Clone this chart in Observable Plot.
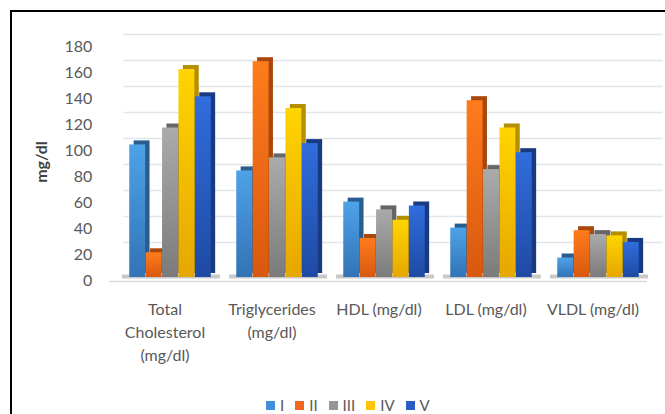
<!DOCTYPE html>
<html><head><meta charset="utf-8">
<script src="https://cdn.jsdelivr.net/npm/d3@7"></script>
<script src="https://cdn.jsdelivr.net/npm/@observablehq/plot@0.6"></script>
<style>
html,body{margin:0;padding:0;width:665px;height:414px;overflow:hidden;background:#fff;font-family:Lato,"Open Sans",sans-serif}
#frame{position:absolute;left:10px;top:10px;width:720px;height:460px;border:2px solid #000;box-sizing:border-box}
#chart{position:absolute;left:0;top:0;width:665px}
#legend{position:absolute;left:266px;top:396px;display:flex;align-items:center;font-size:15px;color:#595959;line-height:18px}
#legend .item{display:flex;align-items:center;margin-right:11px}
#legend .sw{width:9px;height:9px;margin-right:5px}
</style>
</head><body>
<div id="frame"></div>
<div id="chart"></div>
<div id="legend"></div>
<script>
const categories = ["Total\nCholesterol\n(mg/dl)", "Triglycerides\n(mg/dl)", "HDL (mg/dl)", "LDL (mg/dl)", "VLDL (mg/dl)"];
const series = ["I", "II", "III", "IV", "V"];
const valuesI   = [102, 82, 58, 38, 15];
const valuesII  = [19, 166, 30, 136, 36];
const valuesIII = [115, 92, 52, 83, 33];
const valuesIV  = [160, 130, 44, 115, 32];
const valuesV   = [139, 103, 55, 96, 27];
const yTicks = [0, 20, 40, 60, 80, 100, 120, 140, 160, 180];
const yLabel = "mg/dl";

const seriesValues = [valuesI, valuesII, valuesIII, valuesIV, valuesV];
// front gradient top, bottom, side colour
const palette = [
  ["#4ea2e8", "#3273b6", "#2a5c90"],
  ["#ff7b1c", "#d8590f", "#a9480a"],
  ["#ababab", "#7b7b7b", "#666666"],
  ["#ffd400", "#e6a700", "#b58f00"],
  ["#306ddd", "#1f4aa4", "#183a80"]
];
const legendColors = ["#3f8fd6", "#f0661a", "#969696", "#ffc400", "#2a5ec6"];

const rows = series.map((s, i) => categories.map((c, j) => ({category: c, series: s, value: seriesValues[i][j]})));

const bandW = 107.5, barW = 16.4, depthX = 4.4, depthY = 4;
const inset = (bandW - barW) / 2;

const defs = () => {
  const d = d3.create("svg:defs");
  palette.forEach((p, i) => {
    const g = d.append("linearGradient").attr("id", "grad" + i).attr("x1", 0).attr("y1", 0).attr("x2", 0).attr("y2", 1);
    g.append("stop").attr("offset", "0%").attr("stop-color", p[0]);
    g.append("stop").attr("offset", "100%").attr("stop-color", p[1]);
  });
  return d.node();
};

const marks = [defs];
// back grid lines
marks.push(Plot.ruleY(yTicks.slice(1), {stroke: "#e1e6ec", strokeWidth: 1.3, dy: -9, insetLeft: 14, insetRight: -16}));
// floor shadows
marks.push(Plot.tickY(categories, {x: d => d, y: 0, stroke: "#c9c9c9", strokeWidth: 4, dy: -1, insetLeft: 11, insetRight: -2}));
// front base line
marks.push(Plot.ruleY([0], {stroke: "#d9d9d9", strokeWidth: 1.3, dy: 4}));

series.forEach((s, i) => {
  const off = (i - 2) * barW + 5.5;
  marks.push(Plot.barY(rows[i], {x: "category", y: "value", fill: palette[i][2], dx: off + depthX, dy: -depthY, insetLeft: inset, insetRight: inset}));
  marks.push(Plot.barY(rows[i], {x: "category", y: "value", fill: `url(#grad${i})`, dx: off, insetLeft: inset, insetRight: inset}));
});

marks.push(Plot.axisY({ticks: yTicks, tickSize: 0, tickPadding: 17.5, label: null, fill: "#595959", dy: 3.5, fontSize: 16}));
marks.push(Plot.axisX({tickSize: 0, tickPadding: 21.5, label: null, fill: "#595959", lineHeight: 1.44, fontSize: 16}));
marks.push(Plot.text([yLabel], {frameAnchor: "left", textAnchor: "middle", rotate: -90, dx: -68, dy: 1.5, fontWeight: "bold", fill: "#404040", fontSize: 16}));

const chart = Plot.plot({
  width: 665,
  height: 396,
  marginLeft: 109.25,
  marginRight: 18.25,
  marginTop: 43,
  marginBottom: 119,
  style: {fontFamily: "Lato, 'Open Sans', sans-serif", fontSize: "16px", background: "transparent"},
  x: {domain: categories, padding: 0},
  y: {domain: [0, 180]},
  marks
});
document.getElementById("chart").appendChild(chart);

const lg = document.getElementById("legend");
series.forEach((s, i) => {
  const it = document.createElement("div"); it.className = "item";
  const sw = document.createElement("div"); sw.className = "sw"; sw.style.background = legendColors[i];
  const t = document.createElement("span"); t.textContent = s;
  it.appendChild(sw); it.appendChild(t); lg.appendChild(it);
});
</script>
</body></html>
